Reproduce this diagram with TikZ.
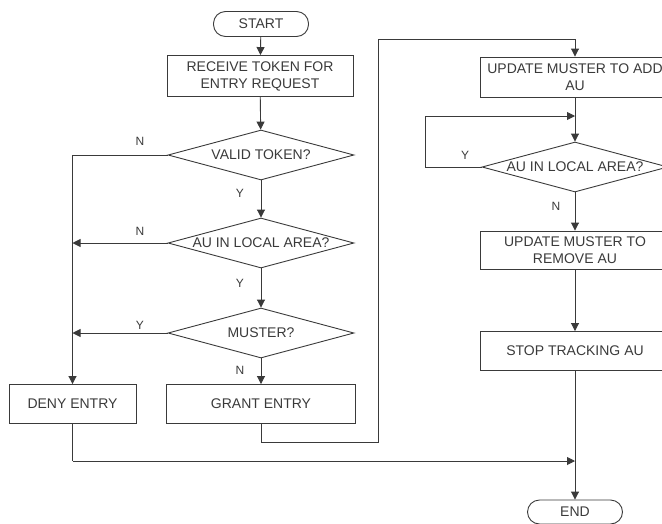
\documentclass[tikz,border=0pt]{standalone}
\usepackage{fontspec}
\setmainfont{Liberation Sans}
\usetikzlibrary{arrows.meta,shapes.geometric}
\definecolor{ink}{HTML}{3A3A3A}
\tikzset{
  every node/.style={font=\fontsize{14}{17}\selectfont, text=ink},
  boxnode/.style={draw=ink, line width=0.9pt, rectangle, align=center, inner sep=0pt},
  term/.style={draw=ink, line width=0.9pt, rectangle, rounded corners=12pt, minimum width=95pt, minimum height=25pt, inner sep=0pt},
  dec/.style={draw=ink, line width=0.9pt, diamond, shape aspect=3.72, minimum width=186pt, minimum height=50pt, inner sep=0pt},
  conn/.style={draw=ink, line width=0.9pt},
  arr/.style={conn, -{Triangle[length=8pt,width=8pt]}},
  lab/.style={font=\fontsize{12}{14}\selectfont}
}
\begin{document}
\begin{tikzpicture}[x=1pt,y=-1pt]
\useasboundingbox (0,0) rectangle (662,523);
\clip (0,0) rectangle (662,523);
% left column
\node[term] (start) at (261,24) {START};
\node[boxnode, minimum width=186pt, minimum height=41pt] (recv) at (260,76) {RECEIVE TOKEN FOR\\ENTRY REQUEST};
\node[dec] (d1) at (261,155) {VALID TOKEN?};
\node[dec] (d2) at (261,243) {AU IN LOCAL AREA?};
\node[dec] (d3) at (261,333) {MUSTER?};
\node[boxnode, minimum width=127pt, minimum height=39pt] (deny) at (72.5,404) {DENY ENTRY};
\node[boxnode, minimum width=189pt, minimum height=39pt] (grant) at (261,404) {GRANT ENTRY};
% right column
\node[boxnode, minimum width=190pt, minimum height=40pt] (upadd) at (575,77) {UPDATE MUSTER TO ADD\\AU};
\node[dec] (d4) at (575,167) {AU IN LOCAL AREA?};
\node[boxnode, minimum width=190pt, minimum height=38pt] (uprem) at (575,250) {UPDATE MUSTER TO\\REMOVE AU};
\node[boxnode, minimum width=190pt, minimum height=39pt] (stop) at (575,351) {STOP TRACKING AU};
\node[term, minimum height=24pt] (end) at (575,512) {END};
\coordinate (j1) at (575,116);
\coordinate (j2) at (575,461);
\coordinate (g1) at (261,442);
\coordinate (g2) at (378,442);
\coordinate (g3) at (378,39);
\coordinate (g4) at (575,39);
\coordinate (l1) at (425,167);
\coordinate (l2) at (425,116);
\coordinate (e1) at (72.5,461);
% connectors left
\draw[arr] (start) -- (recv);
\draw[arr] (recv) -- (d1);
\draw[arr] (d1) -- (d2);
\draw[arr] (d2) -- (d3);
\draw[arr] (d3) -- (grant);
\draw[arr] (d1.west) -| (deny.north);
\draw[arr] (d2.west) -- (d2.west -| deny.north);
\draw[arr] (d3.west) -- (d3.west -| deny.north);
\draw[arr] (grant.south) -- (g1) -- (g2) -- (g3) -- (g4) -- (upadd.north);
\draw[conn] (deny.south) -- (e1);
\draw[arr] (e1) -- (j2);
% connectors right
\draw[arr] (upadd) -- (d4);
\draw[arr] (d4.west) -- (l1) -- (l2) -- (j1);
\draw[arr] (d4) -- (uprem);
\draw[arr] (uprem) -- (stop);
\draw[arr] (stop) -- (end);
% labels
\node[lab] (n1) at (140,141) {N};
\node[lab] (y1) at (240,193) {Y};
\node[lab] (n2) at (140,231) {N};
\node[lab] (y2) at (240,283) {Y};
\node[lab] (y3) at (140,325) {Y};
\node[lab] (n3) at (240,370) {N};
\node[lab] (y4) at (465,155) {Y};
\node[lab] (n4) at (556,206) {N};
\end{tikzpicture}
\end{document}
